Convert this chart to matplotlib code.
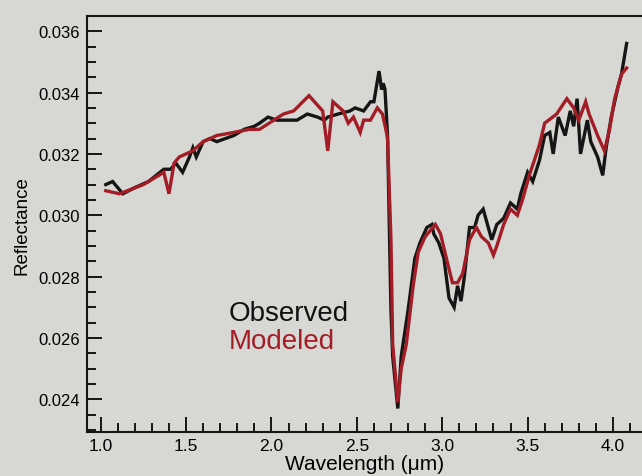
import matplotlib.pyplot as plt
from matplotlib.ticker import MultipleLocator

# values
obs_wl = [1.03, 1.07, 1.13, 1.20, 1.28, 1.37, 1.41, 1.44, 1.48, 1.52, 1.54, 1.56,
          1.60, 1.64, 1.68, 1.78, 1.84, 1.90, 1.93, 1.98, 2.03, 2.15, 2.21, 2.27,
          2.31, 2.33, 2.39, 2.46, 2.49, 2.54, 2.58, 2.60, 2.63, 2.645, 2.655, 2.665,
          2.68, 2.70, 2.71, 2.74, 2.76, 2.80, 2.84, 2.87, 2.91, 2.94, 2.95, 2.98,
          3.01, 3.04, 3.07, 3.09, 3.11, 3.13, 3.16, 3.19, 3.21, 3.24, 3.27, 3.29,
          3.32, 3.36, 3.40, 3.44, 3.46, 3.50, 3.53, 3.57, 3.60, 3.63, 3.65, 3.68,
          3.72, 3.75, 3.77, 3.79, 3.81, 3.85, 3.87, 3.91, 3.94, 3.96, 3.99, 4.03,
          4.05, 4.08]
obs_refl = [0.0310, 0.0311, 0.0307, 0.0309, 0.0311, 0.0315, 0.0315, 0.0317, 0.0314, 0.0319, 0.0322, 0.0319,
            0.0324, 0.0325, 0.0324, 0.0326, 0.0328, 0.0329, 0.0330, 0.0332, 0.0331, 0.0331, 0.0333, 0.0332,
            0.0331, 0.0332, 0.0333, 0.0334, 0.0335, 0.0334, 0.0337, 0.0337, 0.0347, 0.0341, 0.0343, 0.0341,
            0.0326, 0.0269, 0.0254, 0.0237, 0.0254, 0.0269, 0.0286, 0.0291, 0.0296, 0.0297, 0.0294, 0.0291,
            0.0286, 0.0273, 0.0270, 0.0277, 0.0272, 0.0280, 0.0296, 0.0296, 0.0300, 0.0302, 0.0296, 0.0292,
            0.0297, 0.0299, 0.0304, 0.0302, 0.0307, 0.0314, 0.0311, 0.0318, 0.0326, 0.0327, 0.0320, 0.0332,
            0.0326, 0.0334, 0.0329, 0.0338, 0.0320, 0.0331, 0.0324, 0.0319, 0.0313, 0.0322, 0.0332, 0.0342,
            0.0346, 0.0356]

mod_wl = [1.03, 1.11, 1.25, 1.37, 1.40, 1.43, 1.46, 1.54, 1.60, 1.68, 1.78, 1.87,
          1.93, 2.07, 2.13, 2.22, 2.30, 2.33, 2.36, 2.42, 2.45, 2.48, 2.52, 2.54,
          2.58, 2.62, 2.65, 2.67, 2.68, 2.70, 2.71, 2.74, 2.76, 2.79, 2.83, 2.86,
          2.90, 2.96, 2.99, 3.02, 3.06, 3.09, 3.12, 3.16, 3.20, 3.23, 3.27, 3.30,
          3.32, 3.36, 3.40, 3.44, 3.47, 3.51, 3.57, 3.60, 3.67, 3.73, 3.77, 3.80,
          3.84, 3.86, 3.91, 3.95, 3.98, 4.01, 4.05, 4.08]
mod_refl = [0.0308, 0.0307, 0.0310, 0.0314, 0.0307, 0.0317, 0.0319, 0.0321, 0.0324, 0.0326, 0.0327, 0.0328,
            0.0328, 0.0333, 0.0334, 0.0339, 0.0334, 0.0321, 0.0337, 0.0334, 0.0330, 0.0332, 0.0327, 0.0331,
            0.0331, 0.0335, 0.0333, 0.0328, 0.0325, 0.0292, 0.0258, 0.0239, 0.0250, 0.0258, 0.0277, 0.0288,
            0.0293, 0.0297, 0.0294, 0.0287, 0.0278, 0.0278, 0.0281, 0.0292, 0.0296, 0.0293, 0.0291, 0.0287,
            0.0290, 0.0297, 0.0302, 0.0300, 0.0305, 0.0313, 0.0323, 0.0330, 0.0333, 0.0338, 0.0335, 0.0331,
            0.0337, 0.0333, 0.0326, 0.0321, 0.0328, 0.0338, 0.0346, 0.0348]

x_ticks = [1.0, 1.5, 2.0, 2.5, 3.0, 3.5, 4.0]
y_ticks = [0.024, 0.026, 0.028, 0.030, 0.032, 0.034, 0.036]

page = '#d7d7d3'
red = '#a31d27'

plt.rcParams['font.family'] = ['Liberation Sans', 'DejaVu Sans']

fig = plt.figure(figsize=(6.42, 4.77), dpi=100, facecolor=page)
ax = fig.add_axes([0.1355, 0.092, 0.8645, 0.872])
ax.set_facecolor(page)

ax.plot(obs_wl, obs_refl, color='#151515', lw=2.4, solid_joinstyle='miter')
ax.plot(mod_wl, mod_refl, color=red, lw=2.4, solid_joinstyle='miter')

ax.set_xlim(0.92, 4.17)
ax.set_ylim(0.02293, 0.03649)

ax.set_xticks(x_ticks)
ax.set_xticklabels([f'{v:.1f}' for v in x_ticks])
ax.set_yticks(y_ticks)
ax.set_yticklabels([f'{v:.3f}' for v in y_ticks])
ax.xaxis.set_minor_locator(MultipleLocator(0.1))
ax.yaxis.set_minor_locator(MultipleLocator(0.0005))

ax.tick_params(which='both', direction='in', width=1.4, color='#151515')
ax.tick_params(which='major', length=11)
ax.tick_params(which='minor', length=6.5)
ax.tick_params(axis='y', labelsize=12, pad=5)
ax.tick_params(axis='x', labelsize=12.5, pad=4)

for side in ['left', 'bottom', 'top']:
    ax.spines[side].set_linewidth(1.5)
    ax.spines[side].set_color('#151515')
ax.spines['right'].set_visible(False)

# the reference cuts this label at the page edge; keep it whole here
ax.set_xlabel('Wavelength (μm)', fontsize=15, labelpad=1)
ax.set_ylabel('Reflectance', fontsize=13.5, labelpad=6)

ax.text(1.75, 0.0268, 'Observed', color='#111111', fontsize=20, va='center')
ax.text(1.75, 0.0259, 'Modeled', color=red, fontsize=20, va='center')

fig.savefig('out.png', dpi=100, facecolor=page)
